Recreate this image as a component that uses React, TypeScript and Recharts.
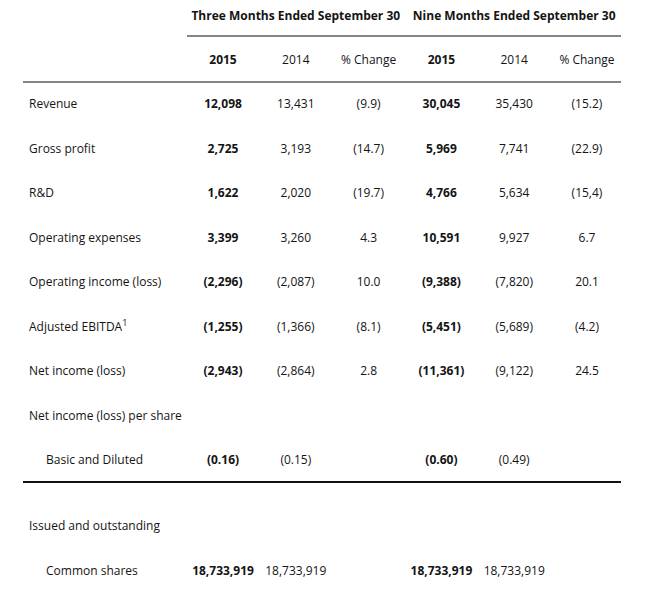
import React from "react";
import { ScatterChart, Scatter, XAxis, YAxis } from "recharts";

// ---------- data ----------
const columnKeys = ["q2015", "q2014", "qchg", "n2015", "n2014", "nchg"];
const columnLabels = ["2015", "2014", "% Change", "2015", "2014", "% Change"];
const boldColumns = ["q2015", "n2015"];
const periodTitles = ["Three Months Ended September 30", "Nine Months Ended September 30"];
const periodTitleColumns = ["q2014", "n2014"];

const rowLabels = [
  "Revenue",
  "Gross profit",
  "R&D",
  "Operating expenses",
  "Operating income (loss)",
  "Adjusted EBITDA",
  "Net income (loss)",
  "Net income (loss) per share",
  "Basic and Diluted",
];
const footnoteRows = ["Adjusted EBITDA"];
const indentedRows = ["Basic and Diluted", "Common shares"];

const q2015 = ["12,098", "2,725", "1,622", "3,399", "(2,296)", "(1,255)", "(2,943)", "", "(0.16)"];
const q2014 = ["13,431", "3,193", "2,020", "3,260", "(2,087)", "(1,366)", "(2,864)", "", "(0.15)"];
const qChange = ["(9.9)", "(14.7)", "(19.7)", "4.3", "10.0", "(8.1)", "2.8", "", ""];
const n2015 = ["30,045", "5,969", "4,766", "10,591", "(9,388)", "(5,451)", "(11,361)", "", "(0.60)"];
const n2014 = ["35,430", "7,741", "5,634", "9,927", "(7,820)", "(5,689)", "(9,122)", "", "(0.49)"];
const nChange = ["(15.2)", "(22.9)", "(15,4)", "6.7", "20.1", "(4.2)", "24.5", "", ""];

const shareRowLabels = ["Issued and outstanding", "Common shares"];
const shareQ2015 = ["", "18,733,919"];
const shareQ2014 = ["", "18,733,919"];
const shareQChange = ["", ""];
const shareN2015 = ["", "18,733,919"];
const shareN2014 = ["", "18,733,919"];
const shareNChange = ["", ""];

// ---------- build ----------
type Cell = { row: string; col: string; text: string };
const buildCells = (rows: string[], cols: string[][]): Cell[] =>
  rows.flatMap((row, r) => columnKeys.map((col, c) => ({ row, col, text: cols[c][r] })));

const mainCells = buildCells(rowLabels, [q2015, q2014, qChange, n2015, n2014, nChange]);
const shareCells = buildCells(shareRowLabels, [
  shareQ2015,
  shareQ2014,
  shareQChange,
  shareN2015,
  shareN2014,
  shareNChange,
]);

const FONT = "'Open Sans', sans-serif";
const INK = "#141414";

const CellText = (props: any) => {
  const { cx, cy, payload } = props;
  if (cx == null || cy == null || !payload) return <g />;
  const bold = boldColumns.includes(payload.col);
  return (
    <text
      x={cx}
      y={cy}
      textAnchor="middle"
      dominantBaseline="central"
      fontFamily={FONT}
      fontSize={12}
      fontWeight={bold ? 700 : 400}
      fill={INK}
    >
      {payload.text}
    </text>
  );
};

const RowTick = (props: any) => {
  const { y, payload } = props;
  const label: string = payload.value;
  const indent = indentedRows.includes(label);
  return (
    <text
      x={indent ? 46 : 29}
      y={y}
      textAnchor="start"
      dominantBaseline="central"
      fontFamily={FONT}
      fontSize={12}
      fill={INK}
    >
      {label}
      {footnoteRows.includes(label) ? (
        <tspan dy={-4} fontSize={9}>
          1
        </tspan>
      ) : null}
    </text>
  );
};

const ColTick = (props: any) => {
  const { x, y, payload } = props;
  const key: string = payload.value;
  const i = columnKeys.indexOf(key);
  const t = periodTitleColumns.indexOf(key);
  return (
    <g>
      <text
        x={x}
        y={y - 22}
        textAnchor="middle"
        dominantBaseline="central"
        fontFamily={FONT}
        fontSize={12}
        fontWeight={boldColumns.includes(key) ? 700 : 400}
        fill={INK}
      >
        {columnLabels[i]}
      </text>
      {t >= 0 ? (
        <text
          x={x}
          y={y - 66}
          textAnchor="middle"
          dominantBaseline="central"
          fontFamily={FONT}
          fontSize={12}
          fontWeight={700}
          fill={INK}
        >
          {periodTitles[t]}
        </text>
      ) : null}
    </g>
  );
};

const PLOT_LEFT = 186.6;
const RIGHT = 26.6;

const Rule = ({ top, left, width, color }: { top: number; left: number; width: number; color: string }) => (
  <div style={{ position: "absolute", top, left, width, height: 2, background: color }} />
);

export default function App() {
  return (
    <div
      style={{
        position: "absolute",
        left: 0,
        top: 0,
        width: 650,
        height: 599,
        background: "#ffffff",
        fontFamily: FONT,
        overflow: "hidden",
      }}
    >
      <div style={{ position: "absolute", left: 0, top: 0 }}>
        <ScatterChart width={650} height={482} margin={{ top: 0, right: RIGHT, bottom: 0, left: 0 }}>
          <XAxis
            xAxisId="c"
            orientation="top"
            type="category"
            dataKey="col"
            allowDuplicatedCategory={false}
            height={81.25}
            axisLine={false}
            tickLine={false}
            tickSize={0}
            tickMargin={0}
            interval={0}
            tick={<ColTick />}
          />
          <YAxis
            yAxisId="r"
            type="category"
            dataKey="row"
            allowDuplicatedCategory={false}
            width={PLOT_LEFT}
            reversed
            axisLine={false}
            tickLine={false}
            tickSize={0}
            interval={0}
            tick={<RowTick />}
          />
          <Scatter
            xAxisId="c"
            yAxisId="r"
            data={mainCells}
            shape={<CellText />}
            isAnimationActive={false}
          />
        </ScatterChart>
      </div>
      <div style={{ position: "absolute", left: 0, top: 482 }}>
        <ScatterChart width={650} height={117} margin={{ top: 20.5, right: RIGHT, bottom: 6.5, left: 0 }}>
          <XAxis
            xAxisId="c"
            type="category"
            dataKey="col"
            allowDuplicatedCategory={false}
            hide
          />
          <YAxis
            yAxisId="r"
            type="category"
            dataKey="row"
            allowDuplicatedCategory={false}
            width={PLOT_LEFT}
            reversed
            axisLine={false}
            tickLine={false}
            tickSize={0}
            interval={0}
            tick={<RowTick />}
          />
          <Scatter
            xAxisId="c"
            yAxisId="r"
            data={shareCells}
            shape={<CellText />}
            isAnimationActive={false}
          />
        </ScatterChart>
      </div>
      <Rule top={35} left={187} width={434} color="#858585" />
      <Rule top={80.5} left={23} width={598} color="#858585" />
      <Rule top={480.7} left={23} width={598} color="#111111" />
    </div>
  );
}
